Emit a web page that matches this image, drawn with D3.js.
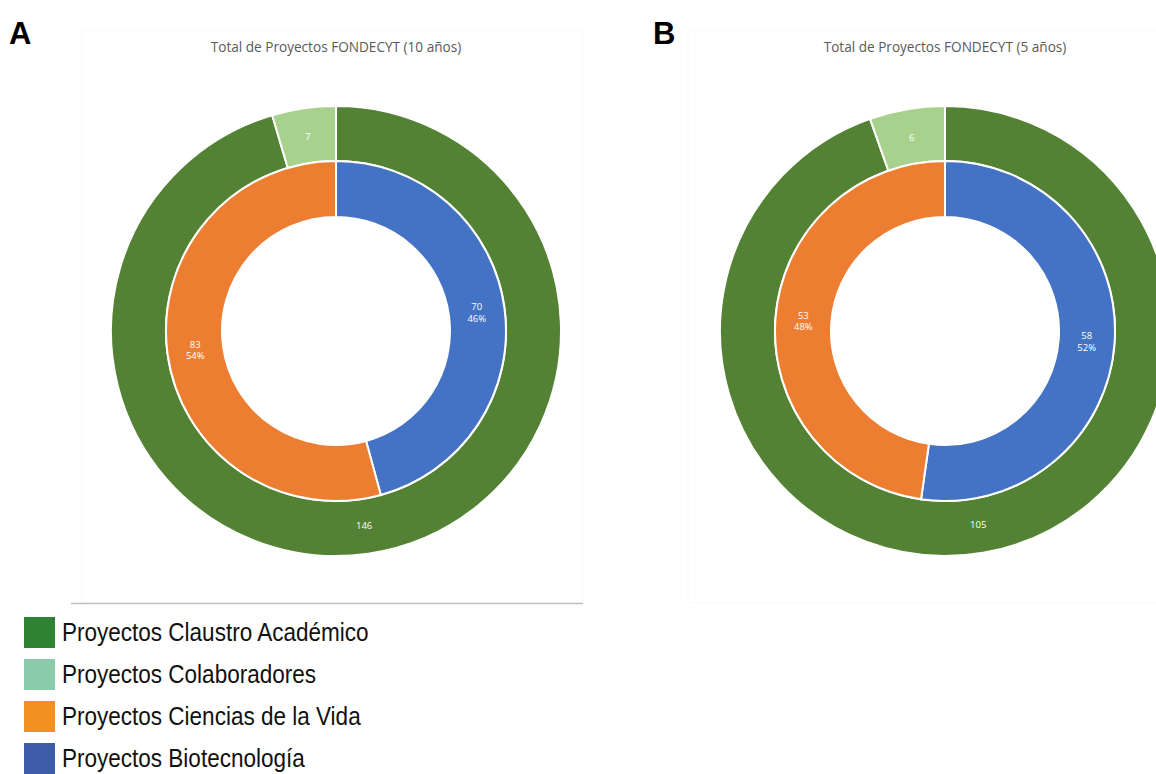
<!DOCTYPE html>
<html>
<head>
<meta charset="utf-8">
<script src="https://cdn.jsdelivr.net/npm/d3@7"></script>
<style>
  html, body { margin: 0; padding: 0; background: #ffffff; }
  svg { display: block; }
</style>
</head>
<body>
<svg id="chart" width="1156" height="774"></svg>
<script>
// ---- Data ----
const panelLetters = ["A", "B"];
const panelTitles = ["Total de Proyectos FONDECYT (10 años)", "Total de Proyectos FONDECYT (5 años)"];
const outerCategories = ["Proyectos Claustro Académico", "Proyectos Colaboradores"];
const innerCategories = ["Proyectos Biotecnología", "Proyectos Ciencias de la Vida"];
const outerValuesA = [146, 7];
const innerValuesA = [70, 83];
const outerValuesB = [105, 6];
const innerValuesB = [58, 53];
const legendLabels = ["Proyectos Claustro Académico", "Proyectos Colaboradores", "Proyectos Ciencias de la Vida", "Proyectos Biotecnología"];

// ---- Styles ----
const ringColors = {
  "Proyectos Claustro Académico": "#548235",
  "Proyectos Colaboradores": "#A9D18E",
  "Proyectos Biotecnología": "#4472C4",
  "Proyectos Ciencias de la Vida": "#ED7D31"
};
const legendColors = ["#2E8232", "#8BCBAA", "#F39022", "#3F5CA9"];

const svg = d3.select("#chart");

const panels = [
  { cx: 336, cy: 331, outer: outerValuesA, inner: innerValuesA, letterX: 9, frameX: 82, frameW: 501 },
  { cx: 945, cy: 331, outer: outerValuesB, inner: innerValuesB, letterX: 653, frameX: 688, frameW: 520 }
];

const rHole = 114, rMid = 170, rOuter = 225;
const pie = d3.pie().sort(null).value(d => d.value).startAngle(0).endAngle(2 * Math.PI);
const innerArc = d3.arc().innerRadius(rHole).outerRadius(rMid);
const outerArc = d3.arc().innerRadius(rMid).outerRadius(rOuter);
const innerLabelArc = d3.arc().innerRadius((rHole + rMid) / 2).outerRadius((rHole + rMid) / 2);
const outerLabelArc = d3.arc().innerRadius((rMid + rOuter) / 2 - 1).outerRadius((rMid + rOuter) / 2 - 1);

panels.forEach((p, i) => {
  // very faint chart frame
  svg.append("rect")
    .attr("x", p.frameX).attr("y", 30)
    .attr("width", p.frameW).attr("height", 573)
    .attr("fill", "none").attr("stroke", "#f9f9f9").attr("stroke-width", 1);

  svg.append("text")
    .attr("x", p.letterX).attr("y", 44)
    .attr("font-family", "Liberation Sans, Arial, sans-serif")
    .attr("font-weight", "bold").attr("font-size", 31)
    .attr("fill", "#000")
    .text(panelLetters[i]);

  svg.append("text")
    .attr("x", p.cx).attr("y", 52)
    .attr("text-anchor", "middle")
    .attr("font-family", "Open Sans, sans-serif")
    .attr("font-size", 13.6).attr("fill", "#595959")
    .text(panelTitles[i]);

  const g = svg.append("g").attr("transform", `translate(${p.cx},${p.cy})`);

  const outerData = pie(outerCategories.map((c, k) => ({ cat: c, value: p.outer[k] })));
  const innerData = pie(innerCategories.map((c, k) => ({ cat: c, value: p.inner[k] })));
  const innerTotal = d3.sum(p.inner);

  g.selectAll("path.outer").data(outerData).join("path")
    .attr("class", "outer")
    .attr("d", outerArc)
    .attr("fill", d => ringColors[d.data.cat])
    .attr("stroke", "#fff").attr("stroke-width", 2);

  g.selectAll("path.inner").data(innerData).join("path")
    .attr("class", "inner")
    .attr("d", innerArc)
    .attr("fill", d => ringColors[d.data.cat])
    .attr("stroke", "#fff").attr("stroke-width", 2);

  g.selectAll("text.olab").data(outerData).join("text")
    .attr("class", "olab")
    .attr("transform", d => `translate(${outerLabelArc.centroid(d)})`)
    .attr("text-anchor", "middle").attr("dominant-baseline", "central")
    .attr("font-family", "Open Sans, sans-serif").attr("font-size", 9.5)
    .attr("fill", "#fff")
    .text(d => d.data.value);

  const il = g.selectAll("text.ilab").data(innerData).join("text")
    .attr("class", "ilab")
    .attr("transform", d => `translate(${innerLabelArc.centroid(d)})`)
    .attr("text-anchor", "middle")
    .attr("font-family", "Open Sans, sans-serif").attr("font-size", 9.5)
    .attr("fill", "#fff");
  il.append("tspan").attr("x", 0).attr("dy", "-0.25em").text(d => d.data.value);
  il.append("tspan").attr("x", 0).attr("dy", "1.25em")
    .text(d => Math.round(d.data.value / innerTotal * 100) + "%");
});

// legend separator line
svg.append("line")
  .attr("x1", 71).attr("x2", 583).attr("y1", 603.5).attr("y2", 603.5)
  .attr("stroke", "#bfbfbf").attr("stroke-width", 1.5);

// legend
const legendY = d3.scalePoint().domain(legendLabels).range([617, 743]);
const lg = svg.append("g");
legendLabels.forEach((lab, k) => {
  const y = legendY(lab);
  lg.append("rect")
    .attr("x", 24).attr("y", y).attr("width", 31).attr("height", 31)
    .attr("fill", legendColors[k]);
  lg.append("text")
    .attr("transform", `translate(62,${y + 15}) scale(0.85,1)`)
    .attr("dominant-baseline", "central")
    .attr("font-family", "Liberation Sans, Arial, sans-serif")
    .attr("font-size", 26.5).attr("fill", "#111")
    .text(lab);
});
</script>
</body>
</html>
